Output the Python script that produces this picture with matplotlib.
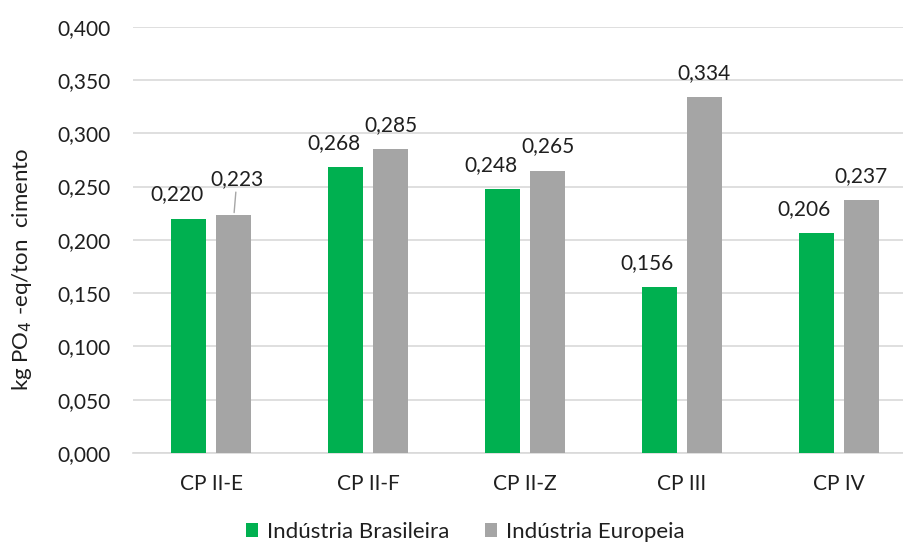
import numpy as np
import matplotlib
matplotlib.use('Agg')
import matplotlib.pyplot as plt

# dados do grafico
categorias = ['CP II-E', 'CP II-F', 'CP II-Z', 'CP III', 'CP IV']
brasil = [0.220, 0.268, 0.248, 0.156, 0.206]
europa = [0.223, 0.285, 0.265, 0.334, 0.237]
serie_nomes = ['Indústria Brasileira', 'Indústria Europeia']

verde = '#00B050'
cinza = '#A5A5A5'
texto = '#1F1F1F'

plt.rcParams['font.family'] = ['Lato', 'DejaVu Sans']
plt.rcParams['font.size'] = 15

fig = plt.figure(figsize=(9.04, 5.43), dpi=100)
ax = fig.add_axes([133 / 904, 90 / 543, 784 / 904, 426.3 / 543])

x = np.arange(len(categorias))
w = 0.223
off = 0.1435
b1 = ax.bar(x - off, brasil, w, color=verde, label=serie_nomes[0], zorder=3)
b2 = ax.bar(x + off, europa, w, color=cinza, label=serie_nomes[1], zorder=3)

ax.set_xlim(-0.5, len(categorias) - 0.5)
ax.set_ylim(0, 0.4)
yt = np.arange(0, 0.401, 0.05)
ax.set_yticks(yt)
ax.set_yticklabels([f'{v:.3f}'.replace('.', ',') for v in yt])
ax.set_xticks(x)
ax.set_xticklabels(categorias)
ax.tick_params(axis='both', length=0, colors=texto, labelsize=15)
ax.tick_params(axis='y', pad=16)
ax.tick_params(axis='x', pad=15)
ax.grid(axis='y', color='#D9D9D9', linewidth=1.2, zorder=0)
for s in ['top', 'right', 'left']:
    ax.spines[s].set_visible(False)
ax.spines['bottom'].set_color('#D9D9D9')
ax.spines['bottom'].set_linewidth(1.2)

# rotulos de dados
fmt = lambda v: f'{v:.3f}'.replace('.', ',')
for i, v in enumerate(brasil):
    ax.annotate(fmt(v), (x[i] - off, v), xytext=(-12, 14), textcoords='offset pixels',
                ha='center', va='bottom', color=texto, fontsize=15)
for i, v in enumerate(europa):
    if i == 0:
        # rotulo deslocado com linha de chamada
        ax.annotate(fmt(v), (x[i] + off, v), xytext=(3, 26), textcoords='offset pixels',
                    ha='center', va='bottom', color=texto, fontsize=15,
                    arrowprops=dict(arrowstyle='-', color='#A6A6A6', lw=1,
                                    shrinkA=0, shrinkB=2))
    else:
        ax.annotate(fmt(v), (x[i] + off, v), xytext=(0, 14), textcoords='offset pixels',
                    ha='center', va='bottom', color=texto, fontsize=15)

fig.text(22 / 904, 1 - 269 / 543, 'kg PO$_4$ -eq/ton  cimento', rotation=90,
         ha='center', va='center', color=texto, fontsize=16)

fig.legend(handles=[b1, b2], loc='center', bbox_to_anchor=(465 / 904, 1 - 532 / 543),
           ncol=2, frameon=False, fontsize=16, handlelength=0.55, handleheight=0.55,
           handletextpad=0.4, columnspacing=1.6, labelcolor=texto)

fig.savefig('out.png', dpi=100)
